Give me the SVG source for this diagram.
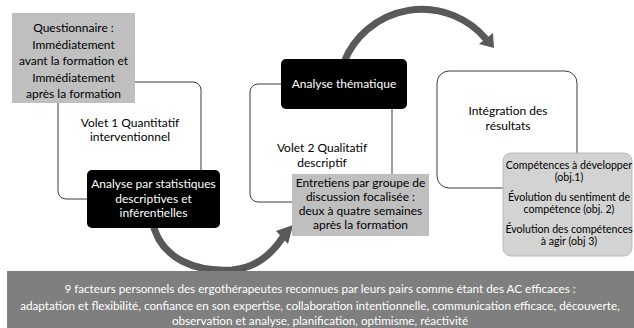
<svg xmlns="http://www.w3.org/2000/svg" width="634" height="328" viewBox="0 0 634 328">
<style>
text{font-family:Lato,"Liberation Sans",sans-serif;font-size:12px;text-anchor:middle;fill:#000}
.w{fill:#fff}
.frame{fill:#fff;stroke:#3a3a3a;stroke-width:1}
.black{fill:#000}
.grey{fill:#bfbfbf}
.light{fill:#d3d3d3;stroke:#b0b0b0;stroke-width:0.8}
.arc{fill:none;stroke:#595959;stroke-width:7}
.head{fill:#595959}
.sm{font-size:10.6px}
.ban{font-size:11.7px}
</style>
<g id="frames">
<g id="volet1"><rect class="frame" x="58" y="82" width="143" height="117" rx="8"/>
<text x="130" y="127">Volet 1 Quantitatif</text><text x="130" y="141">interventionnel</text></g>
<g id="volet2"><rect class="frame" x="250" y="84" width="142" height="118" rx="8"/>
<text x="322" y="152">Volet 2 Qualitatif</text><text x="322" y="167">descriptif</text></g>
<g id="integration"><rect class="frame" x="437" y="71" width="140" height="117" rx="12"/>
<text x="508" y="115">Intégration des</text><text x="508" y="130">résultats</text></g>
</g>
<g id="connectors">
<path class="arc" d="M152,220 C160,262 200,272 232,270 C255,268 272,254 283,237"/>
<polygon class="head" points="293,225 276,231 288,244"/>
<path class="arc" d="M344,62 A84,84 0 0 1 486,39"/>
<polygon class="head" points="494,48 479,44 493,33"/>
</g>
<g id="questionnaire"><rect class="grey" x="12" y="13" width="123" height="90"/>
<text x="73.5" y="32">Questionnaire :</text><text x="73.5" y="48.5">Immédiatement</text><text x="73.5" y="65">avant la formation et</text><text x="73.5" y="81.5">Immédiatement</text><text x="73.5" y="98">après la formation</text></g>
<g id="analyse-stats"><rect class="black" x="87" y="170" width="133" height="58" rx="5"/>
<text class="w" x="153.5" y="188">Analyse par statistiques</text><text class="w" x="153.5" y="203">descriptives et</text><text class="w" x="153.5" y="217">inférentielles</text></g>
<g id="analyse-thematique"><rect class="black" x="281" y="59" width="126" height="50" rx="5"/>
<text class="w" x="344" y="88">Analyse thématique</text></g>
<g id="entretiens"><rect class="grey" x="292" y="174" width="137" height="62"/>
<text x="360.5" y="187">Entretiens par groupe de</text><text x="360.5" y="201">discussion focalisée :</text><text x="360.5" y="215">deux à quatre semaines</text><text x="360.5" y="229">après la formation</text></g>
<g id="competences"><rect class="light" x="503" y="153" width="129" height="103" rx="8"/>
<text class="sm" x="569" y="169">Compétences à développer</text><text class="sm" x="569" y="181">(obj.1)</text><text class="sm" x="569" y="201">Évolution du sentiment de</text><text class="sm" x="569" y="213">compétence (obj. 2)</text><text class="sm" x="569" y="233">Évolution des compétences</text><text class="sm" x="569" y="245">à agir (obj 3)</text></g>
<g id="facteurs"><rect x="7" y="271" width="627" height="57" fill="#7f7f7f"/>
<text class="w ban" x="320" y="293">9 facteurs personnels des ergothérapeutes reconnues par leurs pairs comme étant des AC efficaces :</text>
<text class="w ban" x="320" y="310">adaptation et flexibilité, confiance en son expertise, collaboration intentionnelle, communication efficace, découverte,</text>
<text class="w ban" x="320" y="325">observation et analyse, planification, optimisme, réactivité</text></g>
</svg>
